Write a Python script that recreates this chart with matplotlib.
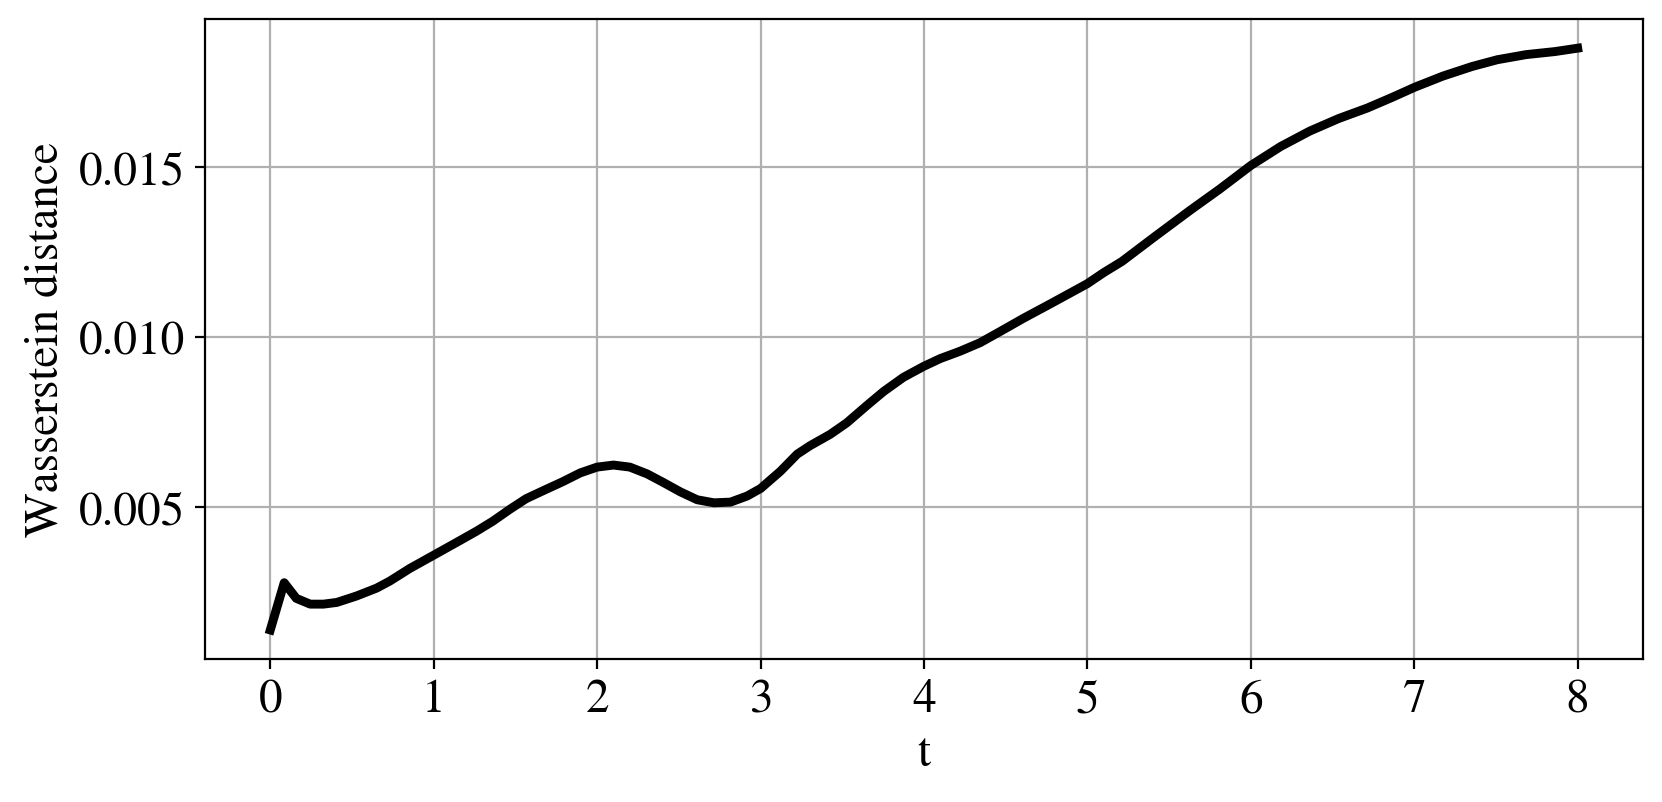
import numpy as np
import matplotlib
matplotlib.use('Agg')
import matplotlib.pyplot as plt

plt.rcParams['font.family'] = ['STIXGeneral', 'Liberation Serif', 'DejaVu Serif']
plt.rcParams['font.size'] = 17

# values
t = [0.0, 0.085, 0.159, 0.244, 0.325, 0.407, 0.528, 0.65, 0.732, 0.854,
     1.0, 1.138, 1.26, 1.362, 1.463, 1.565, 1.667, 1.789, 1.897, 2.0,
     2.1, 2.2, 2.306, 2.408, 2.51, 2.612, 2.714, 2.816, 2.918, 3.0,
     3.122, 3.224, 3.303, 3.425, 3.527, 3.65, 3.752, 3.874, 3.997,
     4.099, 4.222, 4.344, 4.467, 4.61, 4.773, 4.937, 4.998, 5.1, 5.212,
     5.41, 5.631, 5.808, 6.0, 6.183, 6.36, 6.537, 6.713, 6.868, 7.002,
     7.176, 7.353, 7.508, 7.684, 7.861, 8.0]
w_dist = [0.00138, 0.00277, 0.00231, 0.00214, 0.00214, 0.00219, 0.00238, 0.00261, 0.00282, 0.00319,
          0.00358, 0.00395, 0.00428, 0.00458, 0.00492, 0.00524, 0.00547, 0.00574, 0.00600, 0.00617,
          0.00623, 0.00617, 0.00597, 0.00571, 0.00544, 0.00521, 0.00512, 0.00514, 0.00532, 0.00554,
          0.00605, 0.00655, 0.00680, 0.00713, 0.00747, 0.00798, 0.00839, 0.00881, 0.00913,
          0.00936, 0.00958, 0.00983, 0.01016, 0.01055, 0.01097, 0.0114, 0.01156, 0.01189, 0.01222,
          0.01294, 0.01373, 0.01434, 0.01504, 0.0156, 0.01605, 0.01642, 0.01673, 0.01705, 0.01734,
          0.01767, 0.01795, 0.01815, 0.0183, 0.01839, 0.01849]

fig = plt.figure(figsize=(8.31, 4.015), dpi=200)
ax = fig.add_axes([0.1233, 0.178, 0.8653, 0.797])
ax.plot(t, w_dist, color='black', linewidth=3.2)
ax.grid(True)
ax.set_xlabel('t')
ax.set_ylabel('Wasserstein distance')
ax.set_yticks([0.005, 0.010, 0.015])
ax.set_xticks(range(9))

fig.savefig('out.png', dpi=200)
